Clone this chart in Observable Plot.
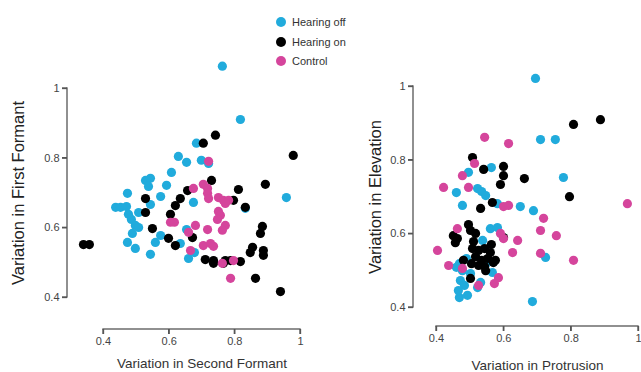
<!DOCTYPE html>
<html>
<head>
<meta charset="utf-8">
<script src="https://cdn.jsdelivr.net/npm/d3@7"></script>
<script src="https://cdn.jsdelivr.net/npm/@observablehq/plot@0.6"></script>
<style>
  html, body { margin: 0; padding: 0; background: #fff; }
  #wrap { position: relative; width: 641px; height: 372px; font-family: "Liberation Sans", Arial, sans-serif; }
  #wrap svg { position: absolute; left: 0; top: 0; display: block; }
  #legend { position: absolute; left: 276px; top: 13px; font-size: 11px; color: #333; line-height: 19.5px; z-index: 3; }
  #legend .sw { display: inline-block; width: 10px; height: 10px; border-radius: 50%; vertical-align: -1px; margin-right: 6px; }
</style>
</head>
<body>
<div id="wrap"><div id="legend"></div></div>
<script>
// Groups and colours
const groups = ["Hearing off", "Hearing on", "Control"];
const colors = ["#21ABDC", "#000000", "#D5459C"];
const ticks = [0.4, 0.6, 0.8, 1];

// Left panel: [Variation in Second Formant, Variation in First Formant]
const formantOff = [
  [0.762,1.064],[0.817,0.911],[0.683,0.843],[0.628,0.805],[0.653,0.788],[0.698,0.794],[0.720,0.785],
  [0.607,0.759],[0.592,0.722],[0.528,0.736],[0.543,0.742],[0.537,0.719],[0.473,0.699],[0.437,0.659],
  [0.452,0.659],[0.470,0.661],[0.507,0.644],[0.543,0.667],[0.574,0.690],[0.476,0.639],[0.485,0.624],
  [0.497,0.607],[0.507,0.601],[0.473,0.558],[0.497,0.541],[0.488,0.584],[0.543,0.524],[0.574,0.578],
  [0.558,0.558],[0.674,0.673],[0.634,0.555],[0.653,0.595],[0.659,0.512],[0.677,0.529],[0.832,0.656],
  [0.957,0.687]
];
const formantOn = [
  [0.704,0.843],[0.741,0.866],[0.978,0.808],[0.893,0.725],[0.811,0.710],[0.729,0.736],[0.339,0.552],
  [0.357,0.552],[0.528,0.684],[0.528,0.644],[0.549,0.598],[0.604,0.639],[0.598,0.570],[0.619,0.549],
  [0.619,0.664],[0.634,0.684],[0.656,0.707],[0.671,0.572],[0.796,0.679],[0.832,0.659],[0.884,0.604],
  [0.878,0.584],[0.854,0.544],[0.847,0.529],[0.887,0.535],[0.887,0.521],[0.710,0.509],[0.735,0.506],
  [0.735,0.498],[0.771,0.506],[0.765,0.498],[0.817,0.503],[0.863,0.455],[0.939,0.417],[0.787,0.506]
];
const formantControl = [
  [0.720,0.791],[0.674,0.713],[0.704,0.725],[0.717,0.713],[0.717,0.699],[0.720,0.684],[0.750,0.687],
  [0.765,0.679],[0.781,0.679],[0.771,0.670],[0.750,0.647],[0.756,0.636],[0.747,0.624],[0.604,0.616],
  [0.616,0.616],[0.680,0.607],[0.717,0.595],[0.771,0.607],[0.762,0.593],[0.659,0.587],[0.704,0.549],
  [0.726,0.555],[0.735,0.547],[0.665,0.535],[0.762,0.498],[0.796,0.506],[0.787,0.455]
];

// Right panel: [Variation in Protrusion, Variation in Elevation]
const lipOff = [
  [0.694,1.022],[0.709,0.856],[0.753,0.856],[0.777,0.753],[0.495,0.767],[0.563,0.780],[0.459,0.712],
  [0.522,0.723],[0.534,0.715],[0.546,0.704],[0.581,0.682],[0.649,0.674],[0.688,0.663],[0.477,0.677],
  [0.560,0.614],[0.581,0.617],[0.724,0.536],[0.685,0.416],[0.459,0.509],[0.468,0.427],[0.492,0.433],
  [0.522,0.454],[0.471,0.473],[0.483,0.460],[0.465,0.446],[0.501,0.492],[0.551,0.522],[0.566,0.495],
  [0.537,0.582],[0.489,0.533],[0.477,0.500],[0.531,0.468],[0.468,0.519]
];
const lipOn = [
  [0.807,0.897],[0.887,0.910],[0.507,0.807],[0.540,0.775],[0.599,0.783],[0.599,0.758],[0.590,0.734],
  [0.661,0.750],[0.795,0.701],[0.566,0.685],[0.531,0.669],[0.495,0.625],[0.501,0.609],[0.516,0.601],
  [0.450,0.595],[0.456,0.576],[0.462,0.587],[0.480,0.528],[0.501,0.479],[0.507,0.560],[0.525,0.555],
  [0.543,0.560],[0.560,0.549],[0.516,0.538],[0.534,0.528],[0.552,0.533],[0.569,0.522],[0.525,0.514],
  [0.543,0.511],[0.504,0.519],[0.563,0.571],[0.575,0.528],[0.510,0.579],[0.546,0.500],[0.599,0.590]
];
const lipControl = [
  [0.543,0.862],[0.614,0.845],[0.513,0.791],[0.477,0.758],[0.421,0.726],[0.495,0.726],[0.599,0.674],
  [0.614,0.677],[0.967,0.682],[0.718,0.642],[0.709,0.609],[0.756,0.595],[0.807,0.528],[0.709,0.547],
  [0.626,0.549],[0.641,0.582],[0.590,0.601],[0.599,0.587],[0.462,0.614],[0.403,0.555],[0.436,0.514],
  [0.477,0.506],[0.525,0.460],[0.572,0.465],[0.584,0.481]
];

const axisColor = "#555";
const half = 0.65; // half line width in px

function panel({sets, xLabel, yLabel, mLeft, mRight, mTop, mBottom, yAxisDx, xAxisDy, yLabelDx, xLabelDy}) {
  const dots = sets.map((s, i) => Plot.dot(s, {x: d => d[0], y: d => d[1], r: 4.6, fill: colors[i]}));
  return Plot.plot({
    width: 641, height: 372,
    marginLeft: mLeft, marginRight: mRight, marginTop: mTop, marginBottom: mBottom,
    style: {background: "transparent", fontFamily: "Liberation Sans, Arial, sans-serif", overflow: "visible", maxWidth: "none"},
    x: {domain: [0.4, 1]},
    y: {domain: [0.4, 1]},
    marks: [
      // axis lines drawn as thin filled rectangles
      Plot.rect([0], {x1: 0.4, x2: 0.4, y1: 0.4, y2: 1, dx: yAxisDx, insetLeft: -half, insetRight: -half, insetTop: -half, insetBottom: -half, fill: axisColor}),
      Plot.rect([0], {x1: 0.4, x2: 1, y1: 0.4, y2: 0.4, dy: xAxisDy, insetLeft: -half, insetRight: -half, insetTop: -half, insetBottom: -half, fill: axisColor}),
      // tick marks as thin filled rectangles
      Plot.rect(ticks, {x1: 0.4, x2: 0.4, y1: d => d, y2: d => d, dx: yAxisDx, insetLeft: -5, insetRight: 0, insetTop: -half, insetBottom: -half, fill: axisColor}),
      Plot.rect(ticks, {x1: d => d, x2: d => d, y1: 0.4, y2: 0.4, dy: xAxisDy, insetLeft: -half, insetRight: -half, insetTop: 0, insetBottom: -5, fill: axisColor}),
      // tick labels
      Plot.axisY(ticks, {anchor: "left", dx: yAxisDx, tickSize: 5, tickPadding: 3, label: null, fontSize: 11, stroke: axisColor, fill: "#444", strokeWidth: 1.3, tickFormat: d => String(d)}),
      Plot.axisX(ticks, {anchor: "bottom", dy: xAxisDy, tickSize: 5, tickPadding: 3, label: null, fontSize: 11, stroke: axisColor, fill: "#444", strokeWidth: 1.3, tickFormat: d => String(d)}),
      Plot.text([yLabel], {frameAnchor: "left", rotate: -90, dx: yLabelDx, fontSize: 16.5, fill: "#222", textAnchor: "middle", lineAnchor: "middle"}),
      Plot.text([xLabel], {frameAnchor: "bottom", dy: xLabelDy, fontSize: 13.5, fill: "#333", textAnchor: "middle", lineAnchor: "middle"}),
      ...dots
    ]
  });
}

const wrap = document.getElementById("wrap");
wrap.appendChild(panel({
  sets: [formantOff, formantOn, formantControl],
  xLabel: "Variation in Second Formant", yLabel: "Variation in First Formant",
  mLeft: 103, mRight: 341, mTop: 88, mBottom: 75,
  yAxisDx: -36, xAxisDy: 32, yLabelDx: -85, xLabelDy: 66
}));
wrap.appendChild(panel({
  sets: [lipOff, lipOn, lipControl],
  xLabel: "Variation in Protrusion", yLabel: "Variation in Elevation",
  mLeft: 436, mRight: 3, mTop: 86, mBottom: 65,
  yAxisDx: -23, xAxisDy: 19, yLabelDx: -61, xLabelDy: 58
}));

// Legend
const legend = document.getElementById("legend");
groups.forEach((g, i) => {
  const row = document.createElement("div");
  row.innerHTML = `<span class="sw" style="background:${colors[i]}"></span>${g}`;
  legend.appendChild(row);
});
</script>
</body>
</html>
